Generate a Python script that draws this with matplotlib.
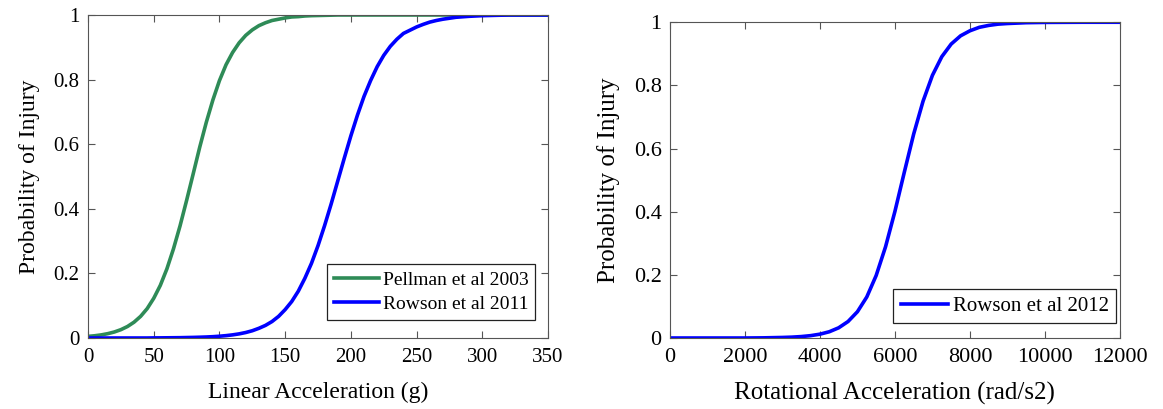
import matplotlib.pyplot as plt

# values (linear acceleration every 5 g)
lin_x = [0, 5, 10, 15, 20, 25, 30, 35, 40, 45, 50, 55, 60, 65, 70, 75, 80, 85,
         90, 95, 100, 105, 110, 115, 120, 125, 130, 135, 140, 145, 150, 155,
         160, 165, 170, 175, 180, 185, 190, 195, 200, 205, 210, 215, 220, 225,
         230, 235, 240, 245, 250, 255, 260, 265, 270, 275, 280, 285, 290, 295,
         300, 305, 310, 315, 320, 325, 330, 335, 340, 345, 350]
pellman_2003 = [0.005, 0.0069, 0.0096, 0.0134, 0.0186, 0.0258, 0.0356, 0.049,
                0.067, 0.091, 0.123, 0.163, 0.214, 0.276, 0.347, 0.426, 0.508,
                0.591, 0.668, 0.737, 0.797, 0.846, 0.884, 0.914, 0.937, 0.954,
                0.967, 0.976, 0.983, 0.987, 0.991, 0.994, 0.995, 0.997, 0.998,
                0.9985, 0.999, 0.9995, 1.0, 1.0, 1.0, 1.0, 1.0, 1.0, 1.0, 1.0,
                1.0, 1.0, 1.0, 1.0, 1.0, 1.0, 1.0, 1.0, 1.0, 1.0, 1.0, 1.0,
                1.0, 1.0, 1.0, 1.0, 1.0, 1.0, 1.0, 1.0, 1.0, 1.0, 1.0, 1.0, 1.0]
rowson_2011 = [0.0, 0.0, 0.0, 0.0, 0.0, 0.0, 0.0, 0.0, 0.0, 0.0, 0.0003,
               0.0004, 0.0006, 0.0008, 0.001, 0.0014, 0.0018, 0.0024, 0.0031,
               0.0041, 0.0055, 0.0073, 0.0097, 0.0128, 0.017, 0.0225, 0.030,
               0.039, 0.051, 0.067, 0.088, 0.113, 0.145, 0.185, 0.231, 0.286,
               0.348, 0.415, 0.486, 0.557, 0.626, 0.690, 0.748, 0.797, 0.840,
               0.875, 0.903, 0.925, 0.943, 0.953, 0.963, 0.971, 0.978, 0.983,
               0.987, 0.990, 0.993, 0.9945, 0.996, 0.997, 0.998, 0.9985, 0.999,
               0.9995, 1.0, 1.0, 1.0, 1.0, 1.0, 1.0, 1.0]

rot_x = [0, 1000, 2000, 2500, 3000, 3250, 3500, 3750, 4000, 4250, 4500, 4750,
         5000, 5250, 5500, 5750, 6000, 6250, 6500, 6750, 7000, 7250, 7500,
         7750, 8000, 8250, 8500, 8750, 9000, 9500, 10000, 11000, 12000]
rowson_2012 = [0.0, 0.0, 0.0, 0.0005, 0.0017, 0.0027, 0.0045, 0.0074, 0.0121,
               0.0198, 0.0323, 0.0522, 0.0832, 0.130, 0.198, 0.289, 0.401,
               0.525, 0.646, 0.750, 0.832, 0.891, 0.931, 0.957, 0.973, 0.984,
               0.990, 0.994, 0.996, 0.9986, 0.9995, 1.0, 1.0]

plt.rcParams['font.family'] = ['Liberation Serif', 'DejaVu Serif']

fig = plt.figure(figsize=(11.63, 4.09), dpi=100)
ax1 = fig.add_axes([0.0757, 0.1736, 0.3955, 0.7897])
ax2 = fig.add_axes([0.576, 0.1736, 0.387, 0.772])

green = '#2e8b57'
blue = '#0000ff'

ax1.plot(lin_x, pellman_2003, color=green, lw=2.6, label='Pellman et al 2003')
ax1.plot(lin_x, rowson_2011, color=blue, lw=2.6, label='Rowson et al 2011')
ax1.set_xlim(0, 350)
ax1.set_xticks(range(0, 351, 50))

ax2.plot(rot_x, rowson_2012, color=blue, lw=2.6, label='Rowson et al 2012')
ax2.set_xlim(0, 12000)
ax2.set_xticks(range(0, 12001, 2000))

# the right panel is printed slightly larger in the reference
setup = [(ax1, 'Linear Acceleration (g)', 15, 17, 14, (0.972, 0.056)),
         (ax2, 'Rotational Acceleration (rad/s2)', 16, 18, 15, (0.991, 0.047))]

for ax, xlab, tsize, lsize, legsize, anchor in setup:
    ax.set_ylim(0, 1)
    ax.set_yticks([0, 0.2, 0.4, 0.6, 0.8, 1])
    ax.set_yticklabels(['0', '0.2', '0.4', '0.6', '0.8', '1'])
    ax.set_xlabel(xlab, fontsize=lsize, labelpad=11)
    ax.set_ylabel('Probability of Injury', fontsize=lsize, labelpad=10)
    ax.tick_params(direction='in', top=True, right=True, labelsize=tsize,
                   length=5, color='#555555')
    ax.tick_params(axis='x', pad=7)
    ax.tick_params(axis='y', pad=6)
    for s in ax.spines.values():
        s.set_color('#555555')
    leg = ax.legend(loc='lower right', fontsize=legsize, fancybox=False,
                    edgecolor='#222222', framealpha=1, handlelength=2.3,
                    handletextpad=0.2, borderpad=0.35, labelspacing=0.35,
                    borderaxespad=0, bbox_to_anchor=anchor)
    leg.get_frame().set_linewidth(0.9)

fig.savefig('out.png', dpi=100)
